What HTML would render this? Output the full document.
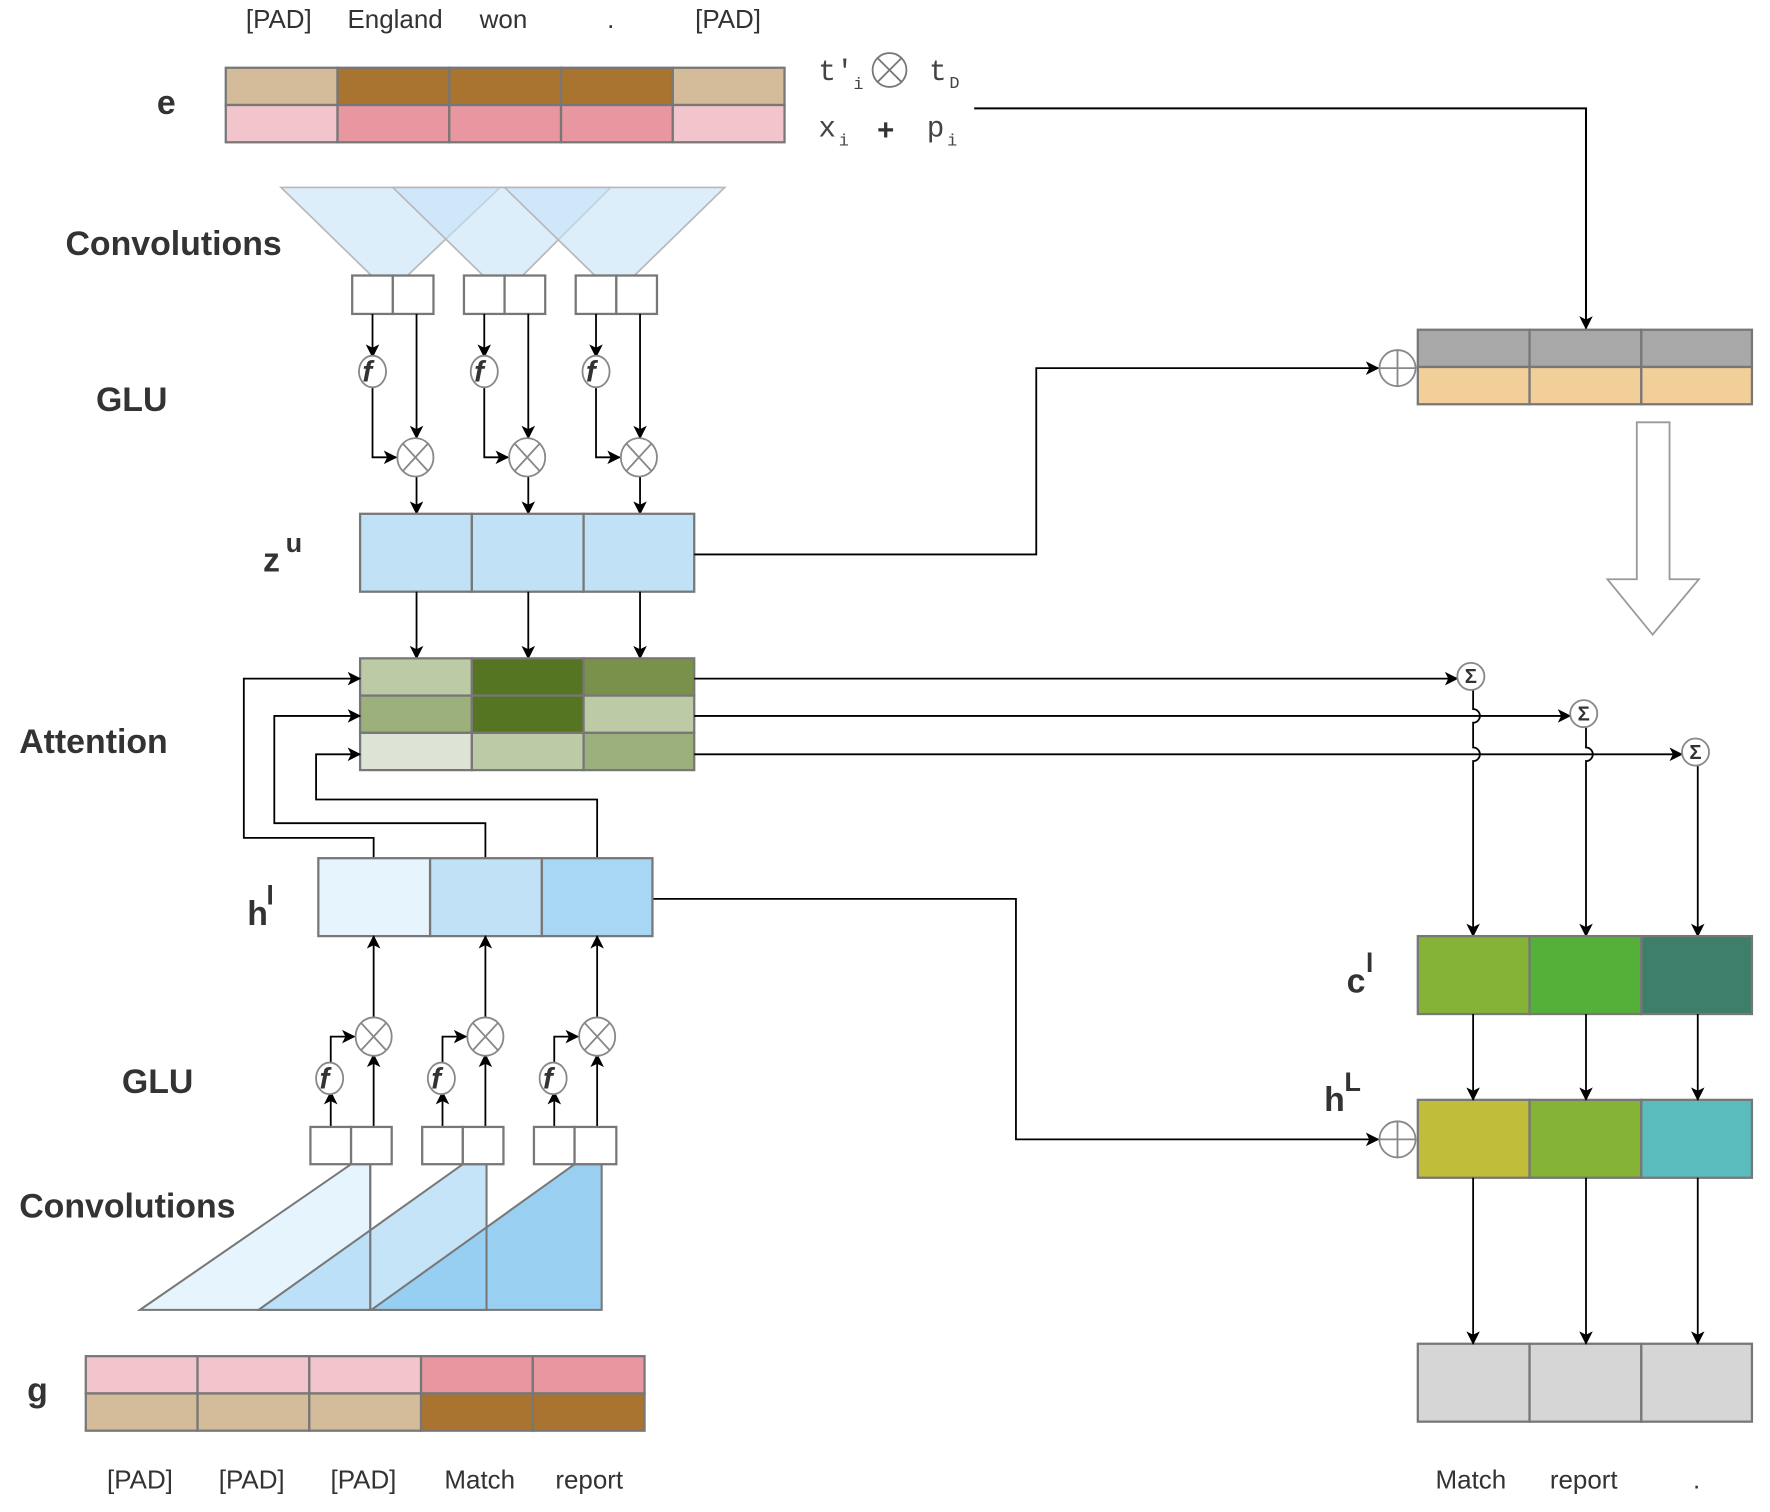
<!DOCTYPE html>
<html><head><meta charset="utf-8"><style>
html,body{margin:0;padding:0;background:#fff;}
svg{display:block;}
text{font-family:"Liberation Sans",sans-serif;fill:#333;}
.lb{font-weight:bold;font-size:30px;}
.tk{font-size:23px;}
.m{font-family:"Liberation Mono",monospace;font-size:26px;fill:#444;}
.ms{font-family:"Liberation Mono",monospace;font-size:15px;fill:#444;}
</style></head><body>
<svg width="1770" height="1512" viewBox="-1 -1 1568 1339" preserveAspectRatio="none" xmlns="http://www.w3.org/2000/svg">
<defs>
<marker id="a" viewBox="0 0 12 12" refX="11" refY="6" markerWidth="12" markerHeight="12" markerUnits="userSpaceOnUse" orient="auto">
<path d="M0,0 L12,6 L0,12 L3,6 Z" fill="#000"/>
</marker>
</defs>
<!-- top labels -->
<text class="tk" x="246" y="24" text-anchor="middle">[PAD]</text>
<text class="tk" x="349" y="24" text-anchor="middle">England</text>
<text class="tk" x="445" y="24" text-anchor="middle">won</text>
<text class="tk" x="540" y="24" text-anchor="middle">.</text>
<text class="tk" x="644" y="24" text-anchor="middle">[PAD]</text>
<text class="lb" x="138" y="100">e</text>
<!-- e bar -->
<g stroke="#777" stroke-width="2">
<rect x="199" y="59" width="99" height="33" fill="#d4bb99"/>
<rect x="298" y="59" width="99" height="33" fill="#a9742f"/>
<rect x="397" y="59" width="99" height="33" fill="#a9742f"/>
<rect x="496" y="59" width="99" height="33" fill="#a9742f"/>
<rect x="595" y="59" width="99" height="33" fill="#d4bb99"/>
<rect x="199" y="92" width="99" height="33" fill="#f2c4cc"/>
<rect x="298" y="92" width="99" height="33" fill="#e8969f"/>
<rect x="397" y="92" width="99" height="33" fill="#e8969f"/>
<rect x="496" y="92" width="99" height="33" fill="#e8969f"/>
<rect x="595" y="92" width="99" height="33" fill="#f2c4cc"/>
</g>
<!-- formula -->
<text class="m" x="724" y="70">t′</text><text class="ms" x="755" y="78">i</text>
<circle cx="787" cy="61" r="15" fill="none" stroke="#777" stroke-width="1.6"/>
<path d="M776,50 L798,72 M798,50 L776,72" stroke="#777" stroke-width="1.6"/>
<text class="m" x="822" y="70">t</text><text class="ms" x="840" y="77">D</text>
<text class="m" x="724" y="120">x</text><text class="ms" x="742" y="128">i</text>
<text x="776" y="123" style="font-size:26px;font-weight:bold;">+</text>
<text class="m" x="820" y="120">p</text><text class="ms" x="838" y="128">i</text>
<path d="M862,95 H1404 V290" stroke="#000" stroke-width="1.8" fill="none" marker-end="url(#a)"/>

<!-- top convolution triangles -->
<g stroke="#b8b8b8" stroke-width="1.5" fill="#c6e3f8" fill-opacity="0.6">
<polygon points="248,165 442,165 360,243 328,243"/>
<polygon points="347,165 540,165 462,243 427,243"/>
<polygon points="446,165 641,165 561,243 526,243"/>
</g>
<text class="lb" x="57" y="225">Convolutions</text>
<text class="lb" x="84" y="363">GLU</text>
<!-- top GLU boxes -->
<g stroke="#777" stroke-width="2" fill="#fff">
<rect x="311" y="243" width="36" height="34"/><rect x="347" y="243" width="36" height="34"/>
<rect x="410" y="243" width="36" height="34"/><rect x="446" y="243" width="36" height="34"/>
<rect x="509" y="243" width="36" height="34"/><rect x="545" y="243" width="36" height="34"/>
</g>
<g stroke="#000" stroke-width="1.6" fill="none">
<path d="M329,277 V315" marker-end="url(#a)"/>
<path d="M329,340 V404 H350" marker-end="url(#a)"/>
<path d="M368,277 V387" marker-end="url(#a)"/>
<path d="M368,421 V454" marker-end="url(#a)"/>
<path d="M428,277 V315" marker-end="url(#a)"/>
<path d="M428,340 V404 H449" marker-end="url(#a)"/>
<path d="M467,277 V387" marker-end="url(#a)"/>
<path d="M467,421 V454" marker-end="url(#a)"/>
<path d="M527,277 V315" marker-end="url(#a)"/>
<path d="M527,340 V404 H548" marker-end="url(#a)"/>
<path d="M566,277 V387" marker-end="url(#a)"/>
<path d="M566,421 V454" marker-end="url(#a)"/>
</g>
<g stroke="#888" stroke-width="1.6" fill="#fff">
<ellipse cx="329" cy="328" rx="12" ry="14"/><ellipse cx="428" cy="328" rx="12" ry="14"/><ellipse cx="527" cy="328" rx="12" ry="14"/>
<ellipse cx="367" cy="404" rx="16" ry="17"/><ellipse cx="466" cy="404" rx="16" ry="17"/><ellipse cx="565" cy="404" rx="16" ry="17"/>
<path d="M356,392 L378,416 M378,392 L356,416 M455,392 L477,416 M477,392 L455,416 M554,392 L576,416 M576,392 L554,416" fill="none"/>
</g>
<g font-family="Liberation Serif,serif" font-style="italic" font-weight="bold" font-size="26" fill="#333">
<text x="320" y="337">f</text><text x="419" y="337">f</text><text x="518" y="337">f</text>
</g>
<!-- z^u -->
<text class="lb" x="232" y="505">z</text><text x="252" y="488" style="font-size:24px;font-weight:bold;">u</text>
<g stroke="#777" stroke-width="2" fill="#c0e1f6">
<rect x="318" y="454" width="99" height="69"/><rect x="417" y="454" width="99" height="69"/><rect x="516" y="454" width="98" height="69"/>
</g>
<g stroke="#000" stroke-width="1.6" fill="none">
<path d="M368,523 V582" marker-end="url(#a)"/>
<path d="M467,523 V582" marker-end="url(#a)"/>
<path d="M566,523 V582" marker-end="url(#a)"/>
<path d="M614,490 H917 V325 H1220" marker-end="url(#a)"/>
</g>
<!-- attention -->
<text class="lb" x="16" y="666">Attention</text>
<g stroke="#777" stroke-width="2">
<rect x="318" y="582" width="99" height="33" fill="#bccba6"/><rect x="417" y="582" width="99" height="33" fill="#567522"/><rect x="516" y="582" width="98" height="33" fill="#7a914c"/>
<rect x="318" y="615" width="99" height="33" fill="#9bb07a"/><rect x="417" y="615" width="99" height="33" fill="#567522"/><rect x="516" y="615" width="98" height="33" fill="#bccba6"/>
<rect x="318" y="648" width="99" height="33" fill="#dde4d5"/><rect x="417" y="648" width="99" height="33" fill="#bccba6"/><rect x="516" y="648" width="98" height="33" fill="#9bb07a"/>
</g>
<g stroke="#000" stroke-width="1.6" fill="none">
<path d="M614,600 H1290" marker-end="url(#a)"/>
<path d="M614,633 H1390" marker-end="url(#a)"/>
<path d="M614,667 H1489" marker-end="url(#a)"/>
<path d="M1304,610 V627 a6,6 0 0 1 0,12 V661 a6,6 0 0 1 0,12 V828" marker-end="url(#a)"/>
<path d="M1404,643 V661 a6,6 0 0 1 0,12 V828" marker-end="url(#a)"/>
<path d="M1503,677 V828" marker-end="url(#a)"/>
<path d="M330,759 V741 H215 V600 H318" marker-end="url(#a)"/>
<path d="M429,759 V728 H242 V633 H318" marker-end="url(#a)"/>
<path d="M528,759 V707 H279 V667 H318" marker-end="url(#a)"/>
<path d="M577,795 H899 V1008 H1220" marker-end="url(#a)"/>
</g>
<g stroke="#888" stroke-width="1.6" fill="#fff">
<circle cx="1302" cy="598" r="12"/><circle cx="1402" cy="631" r="12"/><circle cx="1501" cy="665" r="12"/>
</g>
<g font-size="18" font-weight="bold" text-anchor="middle" font-family="DejaVu Sans,sans-serif">
<text x="1302" y="604">Σ</text><text x="1402" y="637">Σ</text><text x="1501" y="671">Σ</text>
</g>
<!-- h^l -->
<text class="lb" x="218" y="818">h</text><text x="235" y="800" style="font-size:24px;font-weight:bold;">l</text>
<g stroke="#777" stroke-width="2">
<rect x="281" y="759" width="99" height="69" fill="#e6f4fd"/><rect x="380" y="759" width="99" height="69" fill="#c0e1f6"/><rect x="479" y="759" width="98" height="69" fill="#a8d7f5"/>
</g>
<!-- bottom GLU -->
<text class="lb" x="107" y="967">GLU</text>
<g stroke="#000" stroke-width="1.6" fill="none">
<path d="M292,997 V966" marker-end="url(#a)"/>
<path d="M292,942 V917 H313" marker-end="url(#a)"/>
<path d="M330,997 V933" marker-end="url(#a)"/>
<path d="M330,901 V828" marker-end="url(#a)"/>
<path d="M391,997 V966" marker-end="url(#a)"/>
<path d="M391,942 V917 H412" marker-end="url(#a)"/>
<path d="M429,997 V933" marker-end="url(#a)"/>
<path d="M429,901 V828" marker-end="url(#a)"/>
<path d="M490,997 V966" marker-end="url(#a)"/>
<path d="M490,942 V917 H511" marker-end="url(#a)"/>
<path d="M528,997 V933" marker-end="url(#a)"/>
<path d="M528,901 V828" marker-end="url(#a)"/>
</g>
<g stroke="#888" stroke-width="1.6" fill="#fff">
<ellipse cx="291" cy="954" rx="12" ry="14"/><ellipse cx="390" cy="954" rx="12" ry="14"/><ellipse cx="489" cy="954" rx="12" ry="14"/>
<ellipse cx="330" cy="917" rx="16" ry="17"/><ellipse cx="429" cy="917" rx="16" ry="17"/><ellipse cx="528" cy="917" rx="16" ry="17"/>
<path d="M319,905 L341,929 M341,905 L319,929 M418,905 L440,929 M440,905 L418,929 M517,905 L539,929 M539,905 L517,929" fill="none"/>
</g>
<g font-family="Liberation Serif,serif" font-style="italic" font-weight="bold" font-size="26" fill="#333">
<text x="282" y="963">f</text><text x="381" y="963">f</text><text x="480" y="963">f</text>
</g>
<!-- bottom triangles -->
<g stroke="#777" stroke-width="1.8">
<polygon points="123,1159 310,1030 327,1030 327,1159" fill="#e6f4fd"/>
<polygon points="228,1159 409,1030 430,1030 430,1159" fill="#9fd2f3" fill-opacity="0.6"/>
<polygon points="328,1159 508,1030 532,1030 532,1159" fill="#94cdf1" fill-opacity="0.95"/>
<path d="M327,1030 V1159 M430,1030 V1159" fill="none"/>
</g>
<g stroke="#777" stroke-width="2" fill="#fff">
<rect x="274" y="997" width="36" height="33"/><rect x="310" y="997" width="36" height="33"/>
<rect x="373" y="997" width="36" height="33"/><rect x="409" y="997" width="36" height="33"/>
<rect x="472" y="997" width="36" height="33"/><rect x="508" y="997" width="37" height="33"/>
</g>
<text class="lb" x="16" y="1077">Convolutions</text>
<!-- g bar -->
<text class="lb" x="23" y="1240">g</text>
<g stroke="#777" stroke-width="2">
<rect x="75" y="1200" width="99" height="33" fill="#f2c4cc"/><rect x="174" y="1200" width="99" height="33" fill="#f2c4cc"/><rect x="273" y="1200" width="99" height="33" fill="#f2c4cc"/><rect x="372" y="1200" width="99" height="33" fill="#e8969f"/><rect x="471" y="1200" width="99" height="33" fill="#e8969f"/>
<rect x="75" y="1233" width="99" height="33" fill="#d4bb99"/><rect x="174" y="1233" width="99" height="33" fill="#d4bb99"/><rect x="273" y="1233" width="99" height="33" fill="#d4bb99"/><rect x="372" y="1233" width="99" height="33" fill="#a9742f"/><rect x="471" y="1233" width="99" height="33" fill="#a9742f"/>
</g>
<text class="tk" x="123" y="1317" text-anchor="middle">[PAD]</text>
<text class="tk" x="222" y="1317" text-anchor="middle">[PAD]</text>
<text class="tk" x="321" y="1317" text-anchor="middle">[PAD]</text>
<text class="tk" x="424" y="1317" text-anchor="middle">Match</text>
<text class="tk" x="521" y="1317" text-anchor="middle">report</text>
<!-- right side -->
<g stroke="#777" stroke-width="2">
<rect x="1255" y="291" width="99" height="33" fill="#a8a8a8"/><rect x="1354" y="291" width="99" height="33" fill="#a8a8a8"/><rect x="1453" y="291" width="98" height="33" fill="#a8a8a8"/>
<rect x="1255" y="324" width="99" height="33" fill="#f2cf98"/><rect x="1354" y="324" width="99" height="33" fill="#f2cf98"/><rect x="1453" y="324" width="98" height="33" fill="#f2cf98"/>
</g>
<g stroke="#888" stroke-width="1.6" fill="#fff">
<circle cx="1237" cy="325" r="16"/><path d="M1221,325 H1253 M1237,309 V341" fill="none"/>
<circle cx="1237" cy="1008" r="16"/><path d="M1221,1008 H1253 M1237,992 V1024" fill="none"/>
</g>
<polygon points="1449,373 1478,373 1478,512 1504,512 1463,561 1423,512 1449,512" fill="#fff" stroke="#999" stroke-width="1.6"/>
<text class="lb" x="1192" y="878">c</text><text x="1209" y="860" style="font-size:24px;font-weight:bold;">l</text>
<g stroke="#777" stroke-width="2">
<rect x="1255" y="828" width="99" height="69" fill="#84b337"/><rect x="1354" y="828" width="99" height="69" fill="#55b03a"/><rect x="1453" y="828" width="98" height="69" fill="#3e7f6b"/>
</g>
<text class="lb" x="1172" y="983">h</text><text x="1190" y="965" style="font-size:24px;font-weight:bold;">L</text>
<g stroke="#777" stroke-width="2">
<rect x="1255" y="973" width="99" height="69" fill="#c0bd3b"/><rect x="1354" y="973" width="99" height="69" fill="#84b337"/><rect x="1453" y="973" width="98" height="69" fill="#5bbcbe"/>
<rect x="1255" y="1189" width="99" height="69" fill="#d6d6d6"/><rect x="1354" y="1189" width="99" height="69" fill="#d6d6d6"/><rect x="1453" y="1189" width="98" height="69" fill="#d6d6d6"/>
</g>
<g stroke="#000" stroke-width="1.6" fill="none">
<path d="M1304,897 V973" marker-end="url(#a)"/>
<path d="M1404,897 V973" marker-end="url(#a)"/>
<path d="M1503,897 V973" marker-end="url(#a)"/>
<path d="M1304,1042 V1189" marker-end="url(#a)"/>
<path d="M1404,1042 V1189" marker-end="url(#a)"/>
<path d="M1503,1042 V1189" marker-end="url(#a)"/>
</g>
<text class="tk" x="1302" y="1317" text-anchor="middle">Match</text>
<text class="tk" x="1402" y="1317" text-anchor="middle">report</text>
<text class="tk" x="1502" y="1317" text-anchor="middle">.</text>
</svg>
</body></html>
